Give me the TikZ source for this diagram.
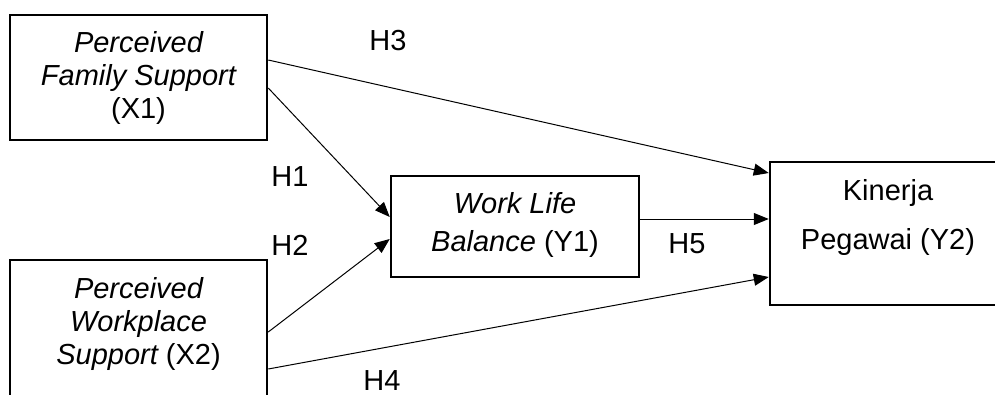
\documentclass[tikz,border=0pt]{standalone}
\usepackage{fontspec}
\setmainfont{Liberation Sans}
\usetikzlibrary{arrows.meta}
\tikzset{
  box/.style={draw=black, line width=2.5pt, fill=none, inner sep=0pt},
  txt/.style={align=center, inner sep=0pt, font=\fontsize{29}{33}\selectfont},
  hlab/.style={inner sep=0pt, font=\fontsize{29}{33}\selectfont},
  conn/.style={line width=1pt, -{Triangle[length=15pt,width=12pt]}},
}
\begin{document}
\begin{tikzpicture}[x=1pt,y=-1pt]
\useasboundingbox (0,0) rectangle (995,394);
\clip (0,0) rectangle (995,394);
% boxes
\node[box, minimum width=257pt, minimum height=125pt] (x1) at (138.5,77.5) {};
\node[box, minimum width=257pt, minimum height=150pt] (x2) at (138.5,335) {};
\node[box, minimum width=248pt, minimum height=101pt] (y1) at (515,226.5) {};
\node[box, minimum width=236pt, minimum height=143pt] (y2) at (888,233.5) {};
% texts
\node[txt] (x1t) at (138.5,78) {\itshape Perceived\\\itshape Family Support\\(X1)};
\node[txt] (x2t) at (138.5,324) {\itshape Perceived\\\itshape Workplace\\{\itshape Support} (X2)};
\node[txt, font=\fontsize{29}{38}\selectfont] (y1t) at (515,225) {\itshape Work Life\\{\itshape Balance} (Y1)};
\node[txt, font=\fontsize{29}{49}\selectfont] (y2t) at (888,217) {Kinerja\\Pegawai (Y2)};
% connectors
\draw[conn] ([yshift=17.5pt]x1.east) -- ([yshift=60.5pt]y2.west);
\draw[conn] ([yshift=-10.5pt]x1.east) -- ([yshift=9.5pt]y1.west);
\draw[conn] ([yshift=3pt]x2.east) -- ([yshift=-12.5pt]y1.west);
\draw[conn] ([yshift=-34pt]x2.east) -- ([yshift=-43.5pt]y2.west);
\draw[conn] ([yshift=7.5pt]y1.east) -- ([yshift=14.5pt]y2.west);
% labels
\node[hlab] (h3) at (388,41) {H3};
\node[hlab] (h1) at (290,177) {H1};
\node[hlab] (h2) at (290,245) {H2};
\node[hlab] (h5) at (687,244) {H5};
\node[hlab] (h4) at (382,381) {H4};
\end{tikzpicture}
\end{document}
